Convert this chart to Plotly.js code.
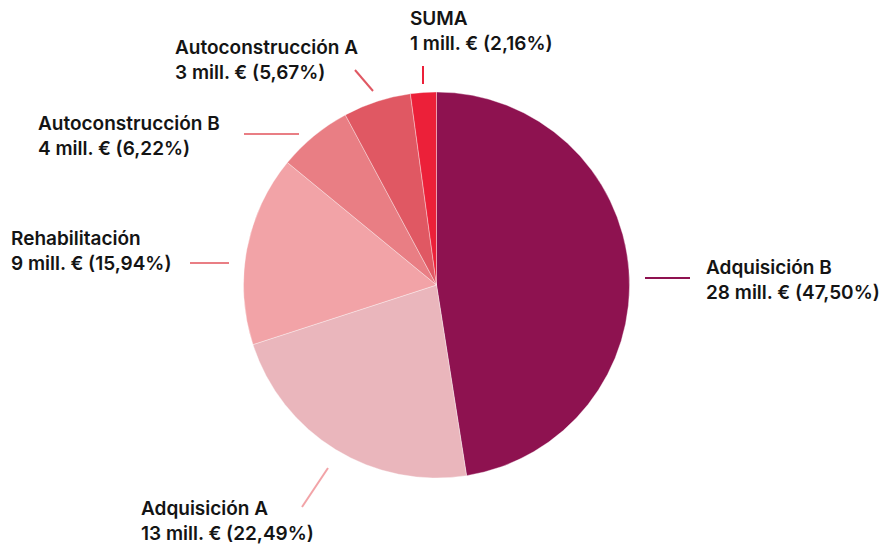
<!DOCTYPE html>
<html>
<head>
<meta charset="utf-8">
<script src="https://cdn.plot.ly/plotly-3.0.1.min.js"></script>
<style>
  html, body { margin: 0; padding: 0; background: #fff; }
  #chart { width: 888px; height: 551px; }
</style>
</head>
<body>
<div id="chart"></div>
<script>
// ---- Data ----
const categories = ["Adquisición B", "Adquisición A", "Rehabilitación", "Autoconstrucción B", "Autoconstrucción A", "SUMA"];
const amountLabels = ["28 mill. €", "13 mill. €", "9 mill. €", "4 mill. €", "3 mill. €", "1 mill. €"];
const shares = [47.50, 22.49, 15.94, 6.22, 5.67, 2.16];
const colors = ["#8E1250", "#EAB6BC", "#F2A3A7", "#E97E84", "#E05863", "#EC2039"];

// ---- Label layout (pixel positions in the 888x551 frame) ----
const W = 888, H = 551;
const labelLayout = [
  { tx: 704, ty: 280, line: [[645, 278], [690, 278]] },
  { tx: 139, ty: 521, line: [[328, 468], [302, 507]] },
  { tx: 9,   ty: 251, line: [[229, 263], [190, 263]] },
  { tx: 36,  ty: 136, line: [[299, 134], [244, 134]] },
  { tx: 173, ty: 60,  line: [[373, 91], [355, 70]] },
  { tx: 408, ty: 31,  line: [[423, 84], [423, 66]] }
];
const lineColors = ["#8E1250", "#F2A3A7", "#E97E84", "#E97E84", "#E05863", "#EC2039"];

function fmt(v) { return v.toFixed(2).replace(".", ","); }
const px = x => x / W;
const py = y => 1 - y / H;

const cx = 436.5, cy = 285, r = 193;

const trace = {
  type: "pie",
  labels: categories,
  values: shares,
  sort: false,
  direction: "clockwise",
  rotation: 0,
  marker: { colors: colors, line: { color: "rgba(255,255,255,0.6)", width: 0.6 } },
  textinfo: "none",
  hoverinfo: "label+percent",
  showlegend: false,
  domain: { x: [px(cx - r), px(cx + r)], y: [py(cy + r), py(cy - r)] }
};

const annotations = categories.map((c, i) => ({
  xref: "paper", yref: "paper",
  x: px(labelLayout[i].tx), y: py(labelLayout[i].ty),
  xanchor: "left", yanchor: "middle", align: "left",
  showarrow: false,
  text: c + "<br>" + amountLabels[i] + " (" + fmt(shares[i]) + "%)",
  font: { family: "Inter, 'Noto Sans', sans-serif", size: 19, color: "#141414", weight: 600 }
}));

const shapes = labelLayout.map((l, i) => ({
  type: "line", xref: "paper", yref: "paper",
  x0: px(l.line[0][0]), y0: py(l.line[0][1]),
  x1: px(l.line[1][0]), y1: py(l.line[1][1]),
  line: { color: lineColors[i], width: 2 }
}));

const layout = {
  width: W, height: H,
  margin: { l: 0, r: 0, t: 0, b: 0 },
  paper_bgcolor: "#ffffff",
  plot_bgcolor: "#ffffff",
  annotations: annotations,
  shapes: shapes
};

Plotly.newPlot("chart", [trace], layout, { displayModeBar: false, staticPlot: true });
</script>
</body>
</html>
